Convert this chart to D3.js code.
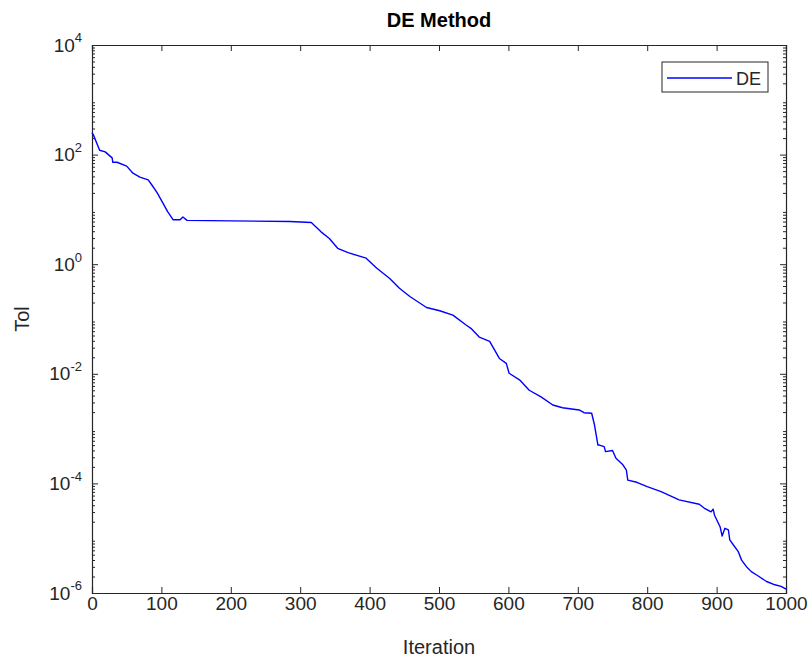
<!DOCTYPE html>
<html>
<head>
<meta charset="utf-8">
<script src="https://cdn.jsdelivr.net/npm/d3@7"></script>
<style>
  body { margin: 0; background: #fff; }
  text { font-family: "Liberation Sans", Arial, sans-serif; }
  .axis path, .axis line { stroke: #262626; }
  .axis text { fill: #262626; }
</style>
</head>
<body>
<script>
// iteration / log10(Tol)
var iters = [0, 2, 11, 19, 29, 30, 36, 50, 59, 69, 81, 86, 94, 102, 109, 117, 127, 131, 137,
  200, 285, 316, 330, 342, 354, 369, 395, 410, 429, 443, 458, 482, 501, 520, 539, 546,
  558, 573, 587, 597, 601, 616, 630, 647, 664, 678, 702, 709, 720, 724, 729, 731, 738,
  740, 750, 755, 765, 770, 772, 785, 800, 820, 846, 875, 882, 892, 895, 897, 905, 908,
  912, 917, 919, 924, 931, 936, 943, 950, 960, 972, 984, 993, 1000];
var logTol = [2.40, 2.36, 2.08, 2.05, 1.94, 1.86, 1.86, 1.79, 1.66, 1.59, 1.54, 1.45, 1.30, 1.12, 0.96, 0.81, 0.81, 0.86, 0.80,
  0.79, 0.78, 0.76, 0.59, 0.47, 0.29, 0.21, 0.11, -0.07, -0.26, -0.44, -0.59, -0.79, -0.85, -0.93, -1.11, -1.17,
  -1.33, -1.41, -1.72, -1.81, -1.99, -2.11, -2.30, -2.42, -2.57, -2.62, -2.66, -2.71, -2.72, -2.93, -3.30, -3.30, -3.33,
  -3.42, -3.40, -3.54, -3.66, -3.76, -3.94, -3.98, -4.06, -4.15, -4.30, -4.38, -4.45, -4.52, -4.47, -4.58, -4.79, -4.96,
  -4.82, -4.85, -5.03, -5.12, -5.24, -5.40, -5.52, -5.61, -5.69, -5.79, -5.85, -5.88, -5.93];
var xTicks = [0, 100, 200, 300, 400, 500, 600, 700, 800, 900, 1000];
var yTicks = [1e-6, 1e-4, 1e-2, 1e0, 1e2, 1e4];

(function () {
  "use strict";
  var W = 811, H = 658;
  var margin = {left: 92, right: 786, top: 45, bottom: 593};

  var svg = d3.select('body').append('svg').attr('width', W).attr('height', H);

  var x = d3.scaleLinear().domain([0, 1000]).range([margin.left, margin.right]);
  var y = d3.scaleLog().domain([1e-6, 1e4]).range([margin.bottom, margin.top]);

  // minor ticks 2..9 for every decade
  var minor = [];
  for (var e = -6; e < 4; e++) {
    for (var m = 2; m <= 9; m++) { minor.push(m * Math.pow(10, e)); }
  }

  function supLabel(sel) {
    sel.selectAll('.tick text').text(null).each(function (d) {
      var t = d3.select(this);
      t.append('tspan').text('10');
      t.append('tspan').attr('dy', '-0.7em').attr('font-size', '13px').text(Math.round(Math.log10(d)));
    });
  }

  // bottom / top
  svg.append('g').attr('class', 'axis').attr('transform', 'translate(0,' + margin.bottom + ')')
    .call(d3.axisBottom(x).tickValues(xTicks).tickSize(-6).tickPadding(4).tickFormat(d3.format('d')))
    .attr('font-size', 19);
  svg.append('g').attr('class', 'axis').attr('transform', 'translate(0,' + margin.top + ')')
    .call(d3.axisTop(x).tickValues(xTicks).tickSize(-6).tickFormat(''));

  // left / right majors
  svg.append('g').attr('class', 'axis').attr('transform', 'translate(' + margin.left + ',0)')
    .call(d3.axisLeft(y).tickValues(yTicks).tickSize(-6).tickPadding(10))
    .attr('font-size', 19)
    .call(supLabel);
  svg.append('g').attr('class', 'axis').attr('transform', 'translate(' + margin.right + ',0)')
    .call(d3.axisRight(y).tickValues(yTicks).tickSize(-6).tickFormat(''));

  // minor ticks
  svg.append('g').attr('class', 'axis').attr('transform', 'translate(' + margin.left + ',0)')
    .call(d3.axisLeft(y).tickValues(minor).tickSize(-3).tickFormat(''))
    .select('.domain').remove();
  svg.append('g').attr('class', 'axis').attr('transform', 'translate(' + margin.right + ',0)')
    .call(d3.axisRight(y).tickValues(minor).tickSize(-3).tickFormat(''))
    .select('.domain').remove();

  svg.selectAll('.axis .domain').attr('stroke-width', 1.2);

  // data line
  var pts = iters.map(function (d, i) { return [d, Math.pow(10, logTol[i])]; });
  svg.append('path')
    .datum(pts)
    .attr('fill', 'none')
    .attr('stroke', '#0000ff')
    .attr('stroke-width', 1.4)
    .attr('stroke-linejoin', 'round')
    .attr('d', d3.line().x(function (d) { return x(d[0]); }).y(function (d) { return y(d[1]); }));

  // title and labels
  var cx = (margin.left + margin.right) / 2;
  svg.append('text').attr('x', cx).attr('y', 27)
    .attr('text-anchor', 'middle').attr('font-size', 20).attr('font-weight', 'bold')
    .attr('fill', '#000').text('DE Method');
  svg.append('text').attr('x', cx).attr('y', 654)
    .attr('text-anchor', 'middle').attr('font-size', 20).attr('fill', '#262626').text('Iteration');
  svg.append('text').attr('transform', 'translate(29,' + ((margin.top + margin.bottom) / 2) + ') rotate(-90)')
    .attr('text-anchor', 'middle').attr('font-size', 20).attr('fill', '#262626').text('Tol');

  // legend
  var lg = svg.append('g').attr('transform', 'translate(662,62)');
  lg.append('rect').attr('width', 106).attr('height', 30)
    .attr('fill', '#fff').attr('stroke', '#262626').attr('stroke-width', 1);
  lg.append('line').attr('x1', 5).attr('x2', 70).attr('y1', 16).attr('y2', 16)
    .attr('stroke', '#0000ff').attr('stroke-width', 1.4);
  lg.append('text').attr('x', 74).attr('y', 23).attr('font-size', 18).attr('fill', '#262626').text('DE');
}());
</script>
</body>
</html>
